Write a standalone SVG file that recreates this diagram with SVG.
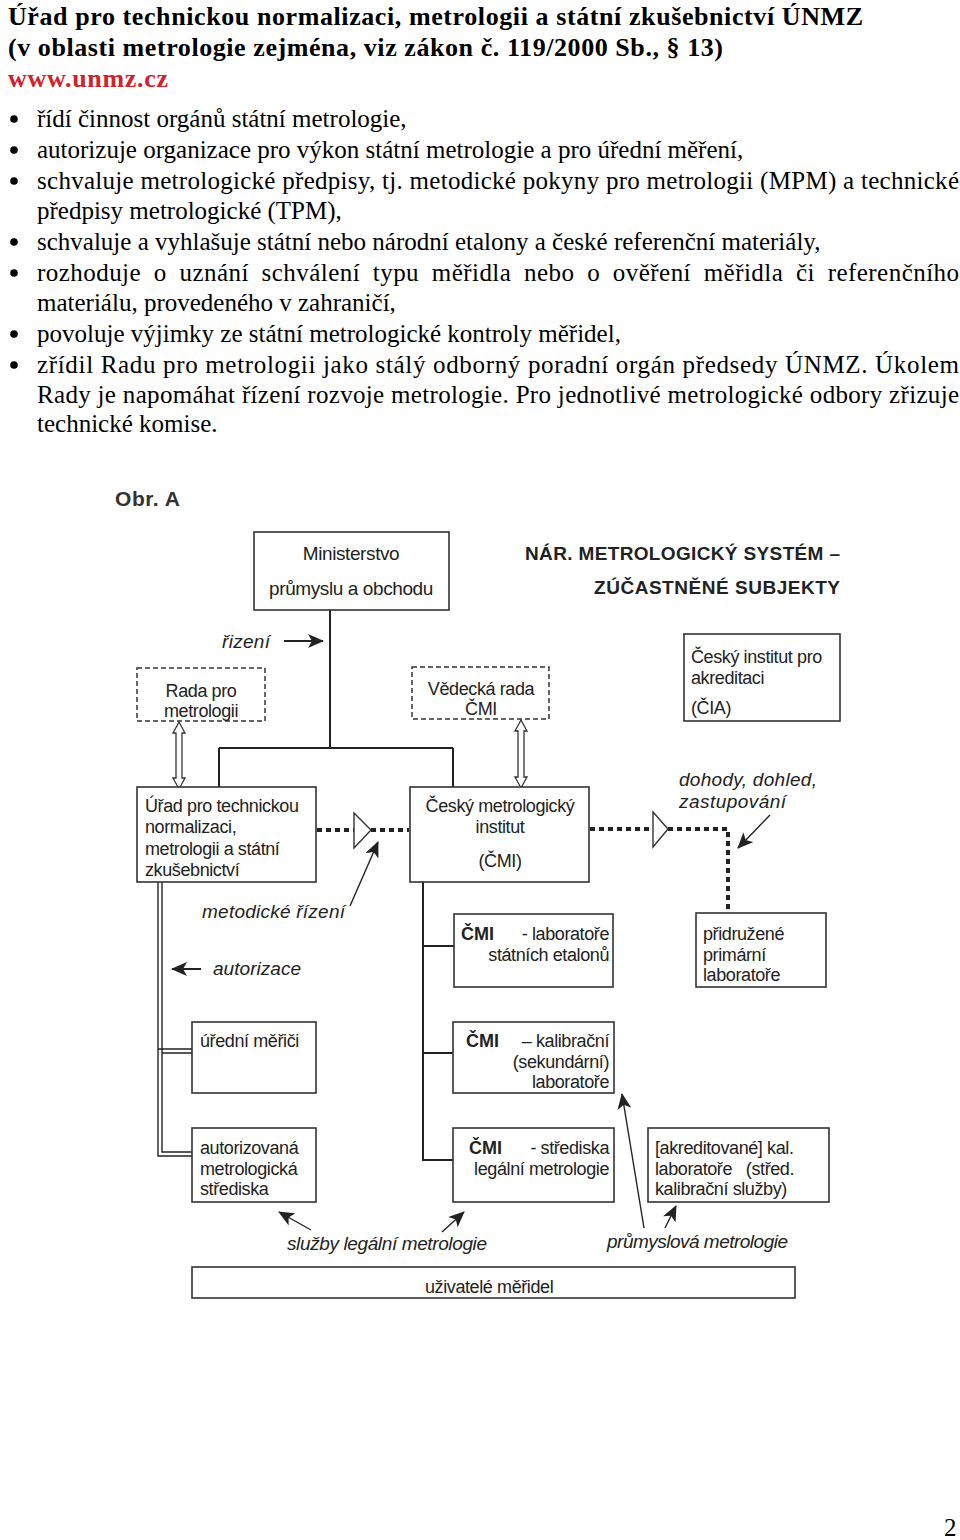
<svg xmlns="http://www.w3.org/2000/svg" width="960" height="1540" viewBox="0 0 960 1540">
<defs>
<style>
.hb{font-family:"Liberation Serif","Times New Roman",serif;font-weight:bold;font-size:26px;fill:#000}
.bt{font-family:"Liberation Serif","Times New Roman",serif;font-size:25px;fill:#000}
.d{font-family:"Liberation Sans",Arial,sans-serif;font-size:18px;fill:#222;letter-spacing:-0.4px}
.di{font-family:"Liberation Sans",Arial,sans-serif;font-size:19px;font-style:italic;fill:#222}
.db{font-family:"Liberation Sans",Arial,sans-serif;font-size:18px;font-weight:bold;fill:#222}
.box{fill:#fff;stroke:#333;stroke-width:1.6}
.dbox{fill:#fff;stroke:#333;stroke-width:1.5;stroke-dasharray:5 3}
.ln{fill:none;stroke:#222;stroke-width:2}
.thin{fill:none;stroke:#222;stroke-width:1.4}
.dot{fill:none;stroke:#222;stroke-width:4;stroke-dasharray:5 4}
.tri{fill:#fff;stroke:#333;stroke-width:1.4}
.harr{fill:#fff;stroke:#333;stroke-width:1.3}
</style>
<marker id="ah" viewBox="0 0 16 14" refX="15" refY="7" markerWidth="16" markerHeight="14" markerUnits="userSpaceOnUse" orient="auto">
<path d="M0,0 L16,7 L0,14 L4,7 z" fill="#222"/>
</marker>
</defs>
<rect width="960" height="1540" fill="#fff"/>

<g id="header">
<text class="hb" x="8" y="25" textLength="855" lengthAdjust="spacing">Úřad pro technickou normalizaci, metrologii a státní zkušebnictví ÚNMZ</text>
<text class="hb" x="8" y="56" textLength="715" lengthAdjust="spacing">(v oblasti metrologie zejména, viz zákon č. 119/2000 Sb., § 13)</text>
<text class="hb" x="8" y="87" style="fill:#d2232a" textLength="160" lengthAdjust="spacing">www.unmz.cz</text>
</g>

<g id="bullets">
<circle cx="14" cy="119" r="3.8" fill="#000"/>
<circle cx="14" cy="150" r="3.8" fill="#000"/>
<circle cx="14" cy="181" r="3.8" fill="#000"/>
<circle cx="14" cy="242" r="3.8" fill="#000"/>
<circle cx="14" cy="273" r="3.8" fill="#000"/>
<circle cx="14" cy="334" r="3.8" fill="#000"/>
<circle cx="14" cy="365" r="3.8" fill="#000"/>
<text class="bt" x="37" y="127">řídí činnost orgánů státní metrologie,</text>
<text class="bt" x="37" y="158">autorizuje organizace pro výkon státní metrologie a pro úřední měření,</text>
<text class="bt" x="37" y="189" textLength="922" lengthAdjust="spacing">schvaluje metrologické předpisy, tj. metodické pokyny pro metrologii (MPM) a technické</text>
<text class="bt" x="37" y="219">předpisy metrologické (TPM),</text>
<text class="bt" x="37" y="250">schvaluje a vyhlašuje státní nebo národní etalony a české referenční materiály,</text>
<text class="bt" x="37" y="281" textLength="922" lengthAdjust="spacing" word-spacing="6">rozhoduje o uznání schválení typu měřidla nebo o ověření měřidla či referenčního</text>
<text class="bt" x="37" y="311">materiálu, provedeného v zahraničí,</text>
<text class="bt" x="37" y="342">povoluje výjimky ze státní metrologické kontroly měřidel,</text>
<text class="bt" x="37" y="373" textLength="922" lengthAdjust="spacing">zřídil Radu pro metrologii jako stálý odborný poradní orgán předsedy ÚNMZ. Úkolem</text>
<text class="bt" x="37" y="403" textLength="922" lengthAdjust="spacing">Rady je napomáhat řízení rozvoje metrologie. Pro jednotlivé metrologické odbory zřizuje</text>
<text class="bt" x="37" y="432">technické komise.</text>
</g>

<g id="figure-title">
<text x="115" y="506" style="font-family:'Liberation Sans',Arial,sans-serif;font-weight:bold;font-size:21px;fill:#333" textLength="65" lengthAdjust="spacing">Obr. A</text>
<text class="db" x="840" y="560" text-anchor="end" style="font-size:19px" textLength="315" lengthAdjust="spacing">NÁR. METROLOGICKÝ SYSTÉM –</text>
<text class="db" x="840" y="594" text-anchor="end" style="font-size:19px" textLength="246" lengthAdjust="spacing">ZÚČASTNĚNÉ SUBJEKTY</text>
</g>

<g id="connectors">
<path class="ln" d="M330,610 V748 M219,748 H453 M219,748 V788 M453,748 V788"/>
<path class="ln" d="M284,641 H323" marker-end="url(#ah)"/>
<polygon class="harr" points="179,722 185,733 182,733 182,778 185,778 179,789 173,778 176,778 176,733 173,733"/>
<polygon class="harr" points="521,720 527,731 524,731 524,777 527,777 521,788 515,777 518,777 518,731 515,731"/>
<path class="dot" d="M317,830 H354 M371,830 H409"/>
<polygon class="tri" points="354,813 371,830 354,848"/>
<path class="dot" d="M590,829 H653 M668,829 H728 V912"/>
<polygon class="tri" points="653,812 668,829 653,847"/>
<path class="thin" d="M158,882 V1156 H193 M162,882 V1152 H193 M158,1049 H193 M162,1053 H193"/>
<path class="ln" d="M423,882 V1160 H454 M423,946 H454 M423,1053 H454"/>
<path class="thin" d="M350,906 L378,842" marker-end="url(#ah)"/>
<path class="ln" d="M201,969 H172" marker-end="url(#ah)"/>
<path class="thin" d="M770,815 L738,848" marker-end="url(#ah)"/>
<path class="thin" d="M311,1230 L279,1212" marker-end="url(#ah)"/>
<path class="thin" d="M442,1232 L464,1212" marker-end="url(#ah)"/>
<path class="thin" d="M644,1228 L622,1094" marker-end="url(#ah)"/>
<path class="thin" d="M665,1228 L676,1206" marker-end="url(#ah)"/>
</g>

<g id="ministerstvo">
<rect class="box" x="254" y="532" width="195" height="78"/>
<text class="d" x="351" y="560" text-anchor="middle" style="font-size:19px">Ministerstvo</text>
<text class="d" x="351" y="595" text-anchor="middle" style="font-size:19px">průmyslu a obchodu</text>
</g>

<g id="rizeni-label">
<text class="di" x="222" y="648" textLength="48" lengthAdjust="spacing">řizení</text>
</g>

<g id="rada">
<rect class="dbox" x="137" y="668" width="128" height="53"/>
<text class="d" x="201" y="697" text-anchor="middle">Rada pro</text>
<text class="d" x="201" y="717" text-anchor="middle">metrologii</text>
</g>

<g id="vedecka-rada">
<rect class="dbox" x="412" y="667" width="137" height="52"/>
<text class="d" x="481" y="695" text-anchor="middle">Vědecká rada</text>
<text class="d" x="481" y="715" text-anchor="middle">ČMI</text>
</g>

<g id="cia">
<rect class="box" x="684" y="634" width="156" height="87"/>
<text class="d" x="691" y="663">Český institut pro</text>
<text class="d" x="691" y="684">akreditaci</text>
<text class="d" x="691" y="714">(ČIA)</text>
</g>

<g id="unmz">
<rect class="box" x="137" y="787" width="179" height="95"/>
<text class="d" x="145" y="812">Úřad pro technickou</text>
<text class="d" x="145" y="833">normalizaci,</text>
<text class="d" x="145" y="855">metrologii a státní</text>
<text class="d" x="145" y="876">zkušebnictví</text>
</g>

<g id="cmi">
<rect class="box" x="410" y="787" width="179" height="95"/>
<text class="d" x="500" y="812" text-anchor="middle">Český metrologický</text>
<text class="d" x="500" y="833" text-anchor="middle">institut</text>
<text class="d" x="500" y="867" text-anchor="middle">(ČMI)</text>
</g>

<g id="dohody-label">
<text class="di" x="679" y="786" textLength="138" lengthAdjust="spacing">dohody, dohled,</text>
<text class="di" x="679" y="808" textLength="107" lengthAdjust="spacing">zastupování</text>
</g>

<g id="metodicke-label">
<text class="di" x="202" y="918" textLength="143" lengthAdjust="spacing">metodické řízení</text>
</g>

<g id="autorizace-label">
<text class="di" x="213" y="975" textLength="88" lengthAdjust="spacing">autorizace</text>
</g>

<g id="cmi-etalony">
<rect class="box" x="454" y="914" width="159" height="73"/>
<text class="db" x="461" y="940">ČMI</text>
<text class="d" x="609" y="940" text-anchor="end">-  laboratoře</text>
<text class="d" x="609" y="961" text-anchor="end">státních etalonů</text>
</g>

<g id="pridruzene">
<rect class="box" x="696" y="913" width="130" height="74"/>
<text class="d" x="703" y="940">přidružené</text>
<text class="d" x="703" y="961">primární</text>
<text class="d" x="703" y="981">laboratoře</text>
</g>

<g id="uredni-merici">
<rect class="box" x="192" y="1022" width="124" height="71"/>
<text class="d" x="200" y="1047">úřední měřiči</text>
</g>

<g id="cmi-kalibracni">
<rect class="box" x="453" y="1022" width="161" height="71"/>
<text class="db" x="466" y="1047">ČMI</text>
<text class="d" x="609" y="1047" text-anchor="end">– kalibrační</text>
<text class="d" x="609" y="1068" text-anchor="end">(sekundární)</text>
<text class="d" x="609" y="1088" text-anchor="end">laboratoře</text>
</g>

<g id="autorizovana">
<rect class="box" x="192" y="1128" width="124" height="74"/>
<text class="d" x="200" y="1154">autorizovaná</text>
<text class="d" x="200" y="1175">metrologická</text>
<text class="d" x="200" y="1195">střediska</text>
</g>

<g id="cmi-strediska">
<rect class="box" x="453" y="1128" width="161" height="74"/>
<text class="db" x="469" y="1154">ČMI</text>
<text class="d" x="609" y="1154" text-anchor="end">- střediska</text>
<text class="d" x="609" y="1175" text-anchor="end">legální metrologie</text>
</g>

<g id="akreditovane">
<rect class="box" x="648" y="1128" width="181" height="74"/>
<text class="d" x="655" y="1154">[akreditované] kal.</text>
<text class="d" x="655" y="1175" xml:space="preserve">laboratoře   (střed.</text>
<text class="d" x="655" y="1195">kalibrační služby)</text>
</g>

<g id="bottom-labels">
<text class="di" x="287" y="1250" textLength="200" lengthAdjust="spacing">služby legální metrologie</text>
<text class="di" x="607" y="1248" textLength="181" lengthAdjust="spacing">průmyslová metrologie</text>
</g>

<g id="uzivatele">
<rect class="box" x="192" y="1267" width="603" height="31"/>
<text class="d" x="425" y="1293">uživatelé měřidel</text>
</g>

<text class="bt" x="944" y="1536">2</text>
</svg>
